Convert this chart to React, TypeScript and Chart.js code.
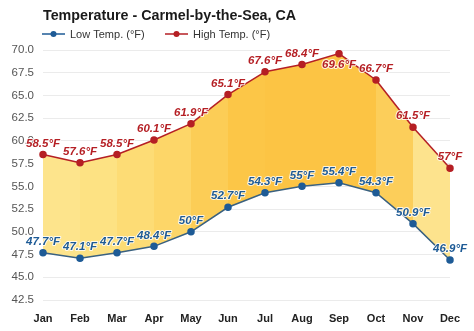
import React, { useEffect, useRef } from "react";
import { Chart, registerables } from "chart.js";

Chart.register(...registerables);

const months = ["Jan", "Feb", "Mar", "Apr", "May", "Jun", "Jul", "Aug", "Sep", "Oct", "Nov", "Dec"];
const lowTemps = [47.7, 47.1, 47.7, 48.4, 50, 52.7, 54.3, 55, 55.4, 54.3, 50.9, 46.9];
const highTemps = [58.5, 57.6, 58.5, 60.1, 61.9, 65.1, 67.6, 68.4, 69.6, 66.7, 61.5, 57];
const lowLabels = ["47.7°F", "47.1°F", "47.7°F", "48.4°F", "50°F", "52.7°F", "54.3°F", "55°F", "55.4°F", "54.3°F", "50.9°F", "46.9°F"];
const highLabels = ["58.5°F", "57.6°F", "58.5°F", "60.1°F", "61.9°F", "65.1°F", "67.6°F", "68.4°F", "69.6°F", "66.7°F", "61.5°F", "57°F"];
const bandColors = ["#fde48c", "#fde283", "#fddc75", "#fdd668", "#fccd56", "#fcc647", "#fcc444", "#fcc444", "#fcc444", "#fcce5a", "#fde38d"];

const TITLE = "Temperature - Carmel-by-the-Sea, CA";
const LOW_NAME = "Low Temp. (°F)";
const HIGH_NAME = "High Temp. (°F)";
const LOW_COLOR = "#1e5b96";
const LOW_LINE = "#3a6180";
const HIGH_COLOR = "#b51f24";

const FONT = "'Liberation Sans', Arial, sans-serif";

const headerPlugin = {
  id: "header",
  afterDraw(chart: any) {
    const ctx = chart.ctx;
    const left = chart.chartArea.left;
    ctx.save();
    ctx.font = `bold 14.3px ${FONT}`;
    ctx.fillStyle = "#1a1a1a";
    ctx.textBaseline = "middle";
    ctx.textAlign = "left";
    ctx.fillText(TITLE, left, 16);

    const items = [
      { name: LOW_NAME, color: LOW_COLOR, x: left - 1 },
      { name: HIGH_NAME, color: HIGH_COLOR, x: left + 122 },
    ];
    ctx.font = `11px ${FONT}`;
    for (const it of items) {
      ctx.strokeStyle = it.color;
      ctx.lineWidth = 1.5;
      ctx.beginPath();
      ctx.moveTo(it.x, 34);
      ctx.lineTo(it.x + 23, 34);
      ctx.stroke();
      ctx.fillStyle = it.color;
      ctx.beginPath();
      ctx.arc(it.x + 11.5, 34, 3, 0, Math.PI * 2);
      ctx.fill();
      ctx.fillStyle = "#333";
      ctx.fillText(it.name, it.x + 28, 34.5);
    }
    ctx.restore();
  },
};

const labelPlugin = {
  id: "pointLabels",
  afterDatasetsDraw(chart: any) {
    const ctx = chart.ctx;
    ctx.save();
    ctx.font = `italic bold 11.5px ${FONT}`;
    ctx.textAlign = "center";
    ctx.textBaseline = "middle";
    ctx.lineJoin = "round";
    const sets = [
      { idx: 0, labels: lowLabels, color: LOW_COLOR },
      { idx: 1, labels: highLabels, color: HIGH_COLOR },
    ];
    for (const s of sets) {
      const meta = chart.getDatasetMeta(s.idx);
      meta.data.forEach((pt: any, i: number) => {
        const below = s.idx === 1 && i === 8;
        const y = below ? pt.y + 11 : pt.y - 11;
        ctx.strokeStyle = "rgba(255,255,255,0.8)";
        ctx.lineWidth = 2;
        ctx.strokeText(s.labels[i], pt.x, y);
        ctx.fillStyle = s.color;
        ctx.fillText(s.labels[i], pt.x, y);
      });
    }
    ctx.restore();
  },
};

export default function App() {
  const ref = useRef<HTMLCanvasElement | null>(null);

  useEffect(() => {
    document.body.style.margin = "0";
    const canvas = ref.current;
    if (!canvas) return;
    const chart = new Chart(canvas, {
      type: "line",
      data: {
        labels: months,
        datasets: [
          {
            label: LOW_NAME,
            data: lowTemps,
            borderColor: LOW_LINE,
            backgroundColor: LOW_COLOR,
            pointBackgroundColor: LOW_COLOR,
            pointBorderColor: LOW_COLOR,
            pointRadius: 3,
            borderWidth: 1.5,
            tension: 0,
            fill: false,
          },
          {
            label: HIGH_NAME,
            data: highTemps,
            borderColor: HIGH_COLOR,
            backgroundColor: bandColors[0],
            pointBackgroundColor: HIGH_COLOR,
            pointBorderColor: HIGH_COLOR,
            pointRadius: 3,
            borderWidth: 1.5,
            tension: 0,
            fill: "-1",
            segment: {
              backgroundColor: (c: any) => bandColors[c.p0DataIndex],
            },
          } as any,
        ],
      },
      options: {
        animation: false,
        responsive: false,
        maintainAspectRatio: false,
        layout: { padding: { top: 50, right: 24, left: 0, bottom: 0 } },
        plugins: {
          legend: { display: false },
          title: { display: false },
          tooltip: { enabled: false },
        },
        scales: {
          x: {
            grid: { display: false },
            border: { display: false },
            ticks: {
              color: "#222",
              font: { family: FONT, size: 11, weight: "bold" },
              padding: 4,
            },
            afterFit: (s: any) => {
              s.height = 31;
            },
          },
          y: {
            min: 42.5,
            max: 70,
            border: { display: false },
            grid: { color: "#ebebeb", drawTicks: false, lineWidth: 1 },
            ticks: {
              stepSize: 2.5,
              color: "#555",
              font: { family: FONT, size: 11.5 },
              padding: 9,
              callback: (v: any) => Number(v).toFixed(1),
            },
            afterFit: (s: any) => {
              s.width = 43;
            },
          },
        },
      },
      plugins: [headerPlugin, labelPlugin],
    });
    return () => chart.destroy();
  }, []);

  return (
    <div style={{ width: 474, height: 331, position: "relative" }}>
      <canvas ref={ref} width={474} height={331} style={{ display: "block" }} />
    </div>
  );
}
